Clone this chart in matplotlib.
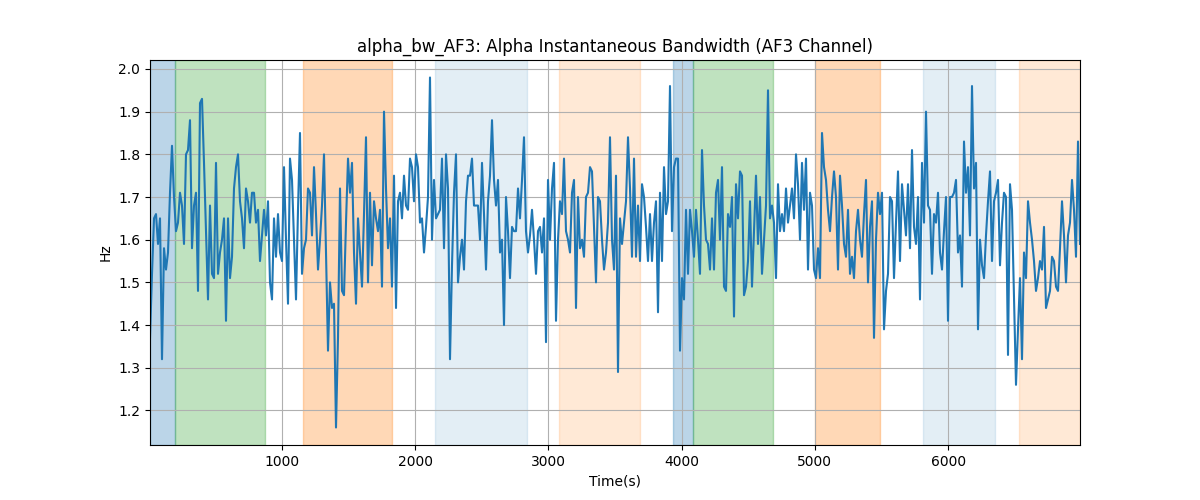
import matplotlib
matplotlib.use("Agg")
import matplotlib.pyplot as plt
from matplotlib.ticker import MultipleLocator
import numpy as np

# alpha bandwidth values, left to right
seg1 = [1.37, 1.52, 1.65, 1.66, 1.59, 1.65, 1.32, 1.58, 1.53, 1.57, 1.71, 1.82, 1.70,
        1.62, 1.64, 1.71, 1.68, 1.59, 1.80, 1.81, 1.88, 1.58, 1.68, 1.71, 1.48, 1.92,
        1.93, 1.78, 1.62, 1.46, 1.68, 1.52, 1.51, 1.78, 1.52, 1.57, 1.60, 1.65, 1.41,
        1.65, 1.51, 1.56, 1.72, 1.77, 1.80, 1.69, 1.65, 1.58, 1.72, 1.69, 1.64, 1.71,
        1.71, 1.64, 1.67, 1.55, 1.61, 1.67, 1.61, 1.69, 1.50, 1.46, 1.65, 1.56, 1.66,
        1.57]
seg2 = [1.55, 1.77, 1.60, 1.45, 1.79, 1.74, 1.60, 1.46, 1.67, 1.85, 1.52, 1.58, 1.60,
        1.72, 1.71, 1.61, 1.77, 1.66, 1.53, 1.60, 1.68, 1.80, 1.57, 1.34, 1.50, 1.44,
        1.45, 1.16, 1.37, 1.72, 1.48, 1.47, 1.64, 1.79, 1.71, 1.78, 1.57, 1.45, 1.65,
        1.57, 1.49, 1.66, 1.84, 1.50, 1.71, 1.54, 1.69, 1.65, 1.62, 1.67, 1.49, 1.90,
        1.72, 1.58, 1.65, 1.49, 1.75, 1.44, 1.69, 1.71, 1.65, 1.75, 1.68, 1.67, 1.79,
        1.77]
seg3 = [1.69, 1.80, 1.77, 1.64, 1.65, 1.57, 1.63, 1.70, 1.98, 1.60, 1.74, 1.65, 1.66,
        1.67, 1.79, 1.58, 1.80, 1.72, 1.32, 1.54, 1.71, 1.80, 1.50, 1.56, 1.60, 1.53,
        1.69, 1.75, 1.75, 1.79, 1.68, 1.68, 1.68, 1.60, 1.78, 1.66, 1.53, 1.69, 1.75,
        1.88, 1.74, 1.68, 1.74, 1.57, 1.60, 1.40, 1.70, 1.62, 1.51, 1.63, 1.62, 1.62,
        1.72, 1.65, 1.74, 1.84, 1.62, 1.57, 1.61, 1.67, 1.60, 1.52, 1.62, 1.63, 1.57,
        1.65]
seg4 = [1.36, 1.74, 1.60, 1.72, 1.78, 1.41, 1.60, 1.69, 1.66, 1.79, 1.62, 1.60, 1.57,
        1.71, 1.74, 1.44, 1.70, 1.58, 1.60, 1.56, 1.70, 1.71, 1.77, 1.76, 1.63, 1.50,
        1.70, 1.69, 1.60, 1.53, 1.57, 1.64, 1.84, 1.60, 1.53, 1.75, 1.29, 1.65, 1.59,
        1.64, 1.69, 1.84, 1.72, 1.56, 1.79, 1.56, 1.68, 1.55, 1.73, 1.70, 1.63, 1.55,
        1.66, 1.55, 1.64, 1.69, 1.43, 1.71, 1.55, 1.77, 1.66, 1.69, 1.96, 1.62, 1.77,
        1.79]
seg5 = [1.79, 1.34, 1.51, 1.46, 1.67, 1.52, 1.67, 1.62, 1.56, 1.67, 1.60, 1.52, 1.81,
        1.68, 1.60, 1.59, 1.53, 1.65, 1.53, 1.71, 1.74, 1.60, 1.77, 1.49, 1.48, 1.66,
        1.63, 1.70, 1.42, 1.73, 1.65, 1.76, 1.75, 1.47, 1.49, 1.55, 1.69, 1.49, 1.62,
        1.75, 1.59, 1.70, 1.52, 1.60, 1.68, 1.95, 1.65, 1.68, 1.64, 1.51, 1.73, 1.62,
        1.66, 1.62, 1.72, 1.64, 1.68, 1.72, 1.65, 1.80, 1.73, 1.60, 1.78, 1.67, 1.79,
        1.53]
seg6 = [1.71, 1.68, 1.53, 1.51, 1.58, 1.51, 1.85, 1.77, 1.74, 1.67, 1.62, 1.70, 1.76,
        1.70, 1.53, 1.75, 1.68, 1.59, 1.56, 1.67, 1.52, 1.56, 1.51, 1.62, 1.67, 1.60,
        1.56, 1.66, 1.74, 1.50, 1.63, 1.69, 1.37, 1.60, 1.71, 1.66, 1.71, 1.39, 1.48,
        1.52, 1.70, 1.69, 1.51, 1.64, 1.76, 1.55, 1.73, 1.67, 1.61, 1.73, 1.58, 1.81,
        1.63, 1.59, 1.70, 1.46, 1.78, 1.64, 1.90, 1.68, 1.67, 1.52, 1.66, 1.64, 1.71,
        1.57]
seg7 = [1.53, 1.62, 1.70, 1.41, 1.70, 1.70, 1.71, 1.74, 1.57, 1.61, 1.49, 1.83, 1.71,
        1.77, 1.61, 1.96, 1.72, 1.78, 1.39, 1.60, 1.54, 1.51, 1.61, 1.69, 1.76, 1.55,
        1.69, 1.71, 1.74, 1.54, 1.64, 1.71, 1.70, 1.33, 1.73, 1.67, 1.46, 1.26, 1.39,
        1.51, 1.32, 1.57, 1.51, 1.69, 1.64, 1.60, 1.55, 1.48, 1.51, 1.55, 1.53, 1.63,
        1.44, 1.46, 1.48, 1.56, 1.55, 1.49, 1.48, 1.58, 1.69, 1.61, 1.50, 1.61, 1.64,
        1.74, 1.67, 1.56, 1.83, 1.59]

bw = np.array(seg1 + seg2 + seg3 + seg4 + seg5 + seg6 + seg7)
t_start, t_end = 10, 6990
time = np.linspace(t_start, t_end, len(bw))

# shaded segments: (start, end, colour, alpha)
span_starts = [10, 197, 1159, 2150, 3080, 3935, 4085, 5003, 5815, 6535]
span_ends = [197, 873, 1827, 2840, 3690, 4085, 4686, 5491, 6355, 6990]
span_colors = ['C0', 'C2', 'C1', 'C0', 'C1', 'C0', 'C2', 'C1', 'C0', 'C1']
span_alphas = [0.3, 0.3, 0.3, 0.12, 0.17, 0.3, 0.3, 0.3, 0.12, 0.17]

fig = plt.figure(figsize=(12, 5), dpi=100)
for s, e, c, a in zip(span_starts, span_ends, span_colors, span_alphas):
    plt.axvspan(s, e, color=c, alpha=a)
plt.plot(time, bw, color='C0')
plt.xlim(t_start, t_end)
plt.gca().yaxis.set_major_locator(MultipleLocator(0.1))
plt.grid(True)
plt.title("alpha_bw_AF3: Alpha Instantaneous Bandwidth (AF3 Channel)")
plt.xlabel("Time(s)")
plt.ylabel("Hz")
plt.savefig("out.png")
